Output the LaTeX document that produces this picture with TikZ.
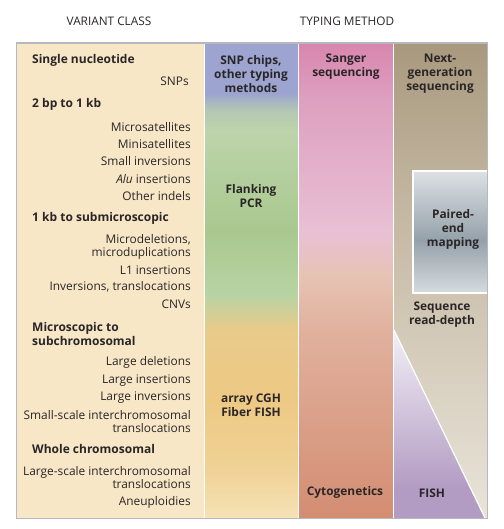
\documentclass[tikz,border=0pt]{standalone}
\usepackage{fontspec}
\setmainfont{Open Sans}
\usetikzlibrary{positioning}

\definecolor{inkc}{HTML}{2A2627}
\definecolor{framegrey}{HTML}{B5B9BD}
\definecolor{creamc}{HTML}{F8E7C7}
\definecolor{snpA}{HTML}{F5E2B6}
\definecolor{snpB}{HTML}{F0D296}
\definecolor{snpC}{HTML}{EDC984}
\definecolor{snpD}{HTML}{E9CB8A}
\definecolor{snpE}{HTML}{B8D3A3}
\definecolor{snpF}{HTML}{A9C88F}
\definecolor{snpG}{HTML}{BDD4AA}
\definecolor{snpH}{HTML}{B4C7B4}
\definecolor{snpI}{HTML}{9CA4CF}
\definecolor{sanA}{HTML}{D38D72}
\definecolor{sanB}{HTML}{E1B19E}
\definecolor{sanC}{HTML}{E6C3B4}
\definecolor{sanD}{HTML}{E8C0D4}
\definecolor{sanE}{HTML}{DEA0C0}
\definecolor{sanF}{HTML}{D886AE}
\definecolor{ngsA}{HTML}{E9E4D9}
\definecolor{ngsB}{HTML}{C3B6A0}
\definecolor{ngsC}{HTML}{A8997E}
\definecolor{pairA}{HTML}{D6DBDF}
\definecolor{pairB}{HTML}{95A1AA}
\definecolor{pairC}{HTML}{DDE1E4}
\definecolor{fishA}{HTML}{B39CC3}
\definecolor{fishB}{HTML}{F2EFF6}

\pgfdeclareverticalshading{snpshade}{100bp}{color(0bp)=(snpA); color(25bp)=(snpA);
  color(30bp)=(snpB); color(37.4bp)=(snpC); color(44.8bp)=(snpD); color(48.5bp)=(snpE);
  color(55.3bp)=(snpF); color(65.8bp)=(snpG); color(67.9bp)=(snpH); color(69.7bp)=(snpI);
  color(75bp)=(snpI); color(100bp)=(snpI)}
\pgfdeclareverticalshading{sangershade}{100bp}{color(0bp)=(sanA); color(25bp)=(sanA);
  color(44.8bp)=(sanB); color(50.5bp)=(sanC); color(55bp)=(sanD); color(69bp)=(sanE);
  color(75bp)=(sanF); color(100bp)=(sanF)}
\pgfdeclareverticalshading{ngsshade}{100bp}{color(0bp)=(ngsA); color(25bp)=(ngsA);
  color(58.5bp)=(ngsB); color(75bp)=(ngsC); color(100bp)=(ngsC)}
\pgfdeclareverticalshading{pairshade}{100bp}{color(0bp)=(pairA); color(25bp)=(pairA);
  color(46.7bp)=(pairB); color(75bp)=(pairC); color(100bp)=(pairC)}
\pgfdeclareverticalshading{fishshade}{100bp}{color(0bp)=(fishA); color(25bp)=(fishA);
  color(33bp)=(fishA); color(75bp)=(fishB); color(100bp)=(fishB)}

\begin{document}
\begin{tikzpicture}[x=1pt, y=-1pt, every node/.style={text=inkc, inner sep=0pt},
  headlbl/.style={font=\fontsize{11.8}{13}\selectfont},
  grouplbl/.style={anchor=west, align=left, font=\fontsize{12}{14}\selectfont\bfseries},
  itemlbl/.style={anchor=east, align=right, font=\fontsize{11.9}{13}\selectfont},
  methlbl/.style={align=center, font=\fontsize{11.9}{14}\selectfont\bfseries}]
\useasboundingbox (0,0) rectangle (503,529);
\fill[creamc] (17,43) rectangle (204,518);
\shade[shading=snpshade] (205,43) rectangle (298,518);
\shade[shading=sangershade] (299,43) rectangle (393,518);
\shade[shading=ngsshade] (394,43) rectangle (487,518);
\shade[shading=pairshade] (413,171) rectangle (487,293);
\draw[white, line width=1.5pt] (487,171) -- (413,171) -- (413,293) -- (487,293);
\shade[shading=fishshade] (394,330) -- (485,518) -- (394,518) -- cycle;
\draw[white, line width=1.2pt] (394,330) -- (485,518);
\draw[white, line width=1.2pt] (204.5,43) -- (204.5,518) (298.5,43) -- (298.5,518) (393.5,43) -- (393.5,518);
\draw[framegrey, line width=1.8pt] (16.5,43) rectangle (487.5,518.5);

\node[headlbl] (vchead) at (109,21) {VARIANT CLASS};
\node[headlbl] (tmhead) at (347,21) {TYPING METHOD};

\node[grouplbl] (gsingle) at (32,60) {Single nucleotide};
\node[itemlbl] (snps) at (189,81) {SNPs};
\node[grouplbl] (gsmall) at (32,104) {2 bp to 1 kb};
\node[itemlbl] (micsat) at (191,127) {Microsatellites};
\node[itemlbl] (minsat) at (191,144) {Minisatellites};
\node[itemlbl] (smallinv) at (191,161) {Small inversions};
\node[itemlbl] (alu) at (191,179) {\textit{Alu} insertions};
\node[itemlbl] (indels) at (191,196) {Other indels};
\node[grouplbl] (gkb) at (32,218) {1 kb to submicroscopic};
\node[itemlbl] (microdel) at (191,246.5) {Microdeletions,\\microduplications};
\node[itemlbl] (lone) at (191,270) {L1 insertions};
\node[itemlbl] (invtrans) at (191,287) {Inversions, translocations};
\node[itemlbl] (cnvs) at (191,304) {CNVs};
\node[grouplbl] (gmicro) at (32,334) {Microscopic to\\subchromosomal};
\node[itemlbl] (ldel) at (191,362) {Large deletions};
\node[itemlbl] (lins) at (191,381) {Large insertions};
\node[itemlbl] (linv) at (191,398) {Large inversions};
\node[itemlbl] (smscale) at (191,422) {Small-scale interchromosomal\\translocations};
\node[grouplbl] (gwhole) at (32,449) {Whole chromosomal};
\node[itemlbl] (lgscale) at (191,478) {Large-scale interchromosomal\\translocations};
\node[itemlbl] (aneu) at (191,502) {Aneuploidies};

\node[methlbl] (snpchips) at (251,74) {SNP chips,\\other typing\\methods};
\node[methlbl] (flank) at (251,196) {Flanking\\PCR};
\node[methlbl] (acgh) at (251,405) {array CGH\\Fiber FISH};
\node[methlbl] (sanger) at (346,67) {Sanger\\sequencing};
\node[methlbl] (cyto) at (345,492) {Cytogenetics};
\node[methlbl] (nextgen) at (440,74) {Next-\\generation\\sequencing};
\node[methlbl] (paired) at (453,229) {Paired-\\end\\mapping};
\node[methlbl] (readdepth) at (442,315) {Sequence\\read-depth};
\node[methlbl] (fish) at (432,493) {FISH};
\end{tikzpicture}
\end{document}
